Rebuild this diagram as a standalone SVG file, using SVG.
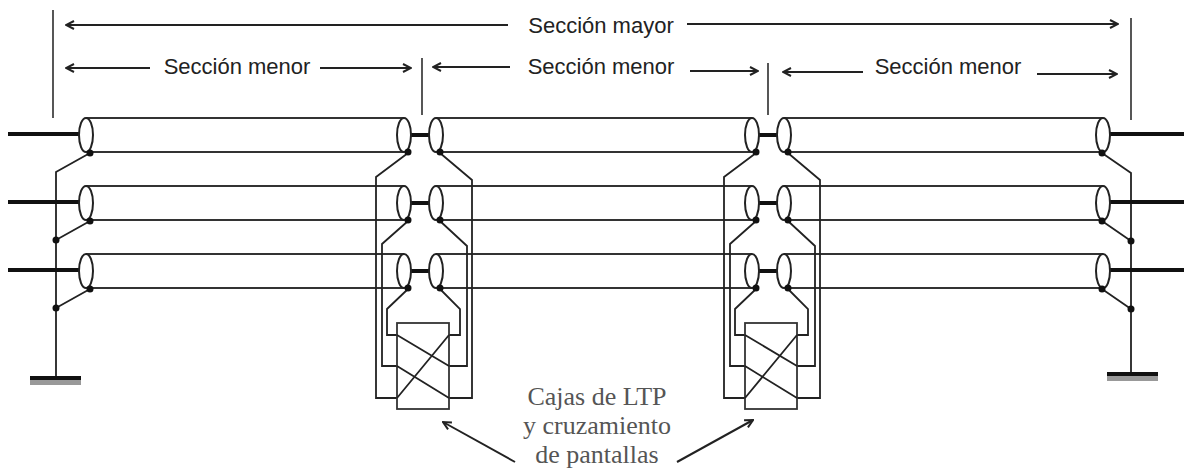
<svg xmlns="http://www.w3.org/2000/svg" width="1184" height="470" viewBox="0 0 1184 470">
<style>
.bg{fill:#ffffff}
.w{fill:none;stroke:#222;stroke-width:1.8;stroke-linejoin:miter}
.cab{fill:none;stroke:#333;stroke-width:2}
.cond{fill:none;stroke:#111;stroke-width:4}
.ell{fill:#fff;stroke:#222;stroke-width:2}
.dot{fill:#111}
.gnd{stroke:#111;stroke-width:4}
.gsh{fill:#999}
.box{fill:none;stroke:#333;stroke-width:1.8}
.arr{fill:none;stroke:#222;stroke-width:2;marker-end:url(#ah)}
.sep{fill:none;stroke:#444;stroke-width:1.8}
.lbl{font-family:"Liberation Sans",Arial,sans-serif;font-size:22px;fill:#222;text-anchor:middle}
.note{font-family:"Liberation Serif","Times New Roman",serif;font-size:26px;fill:#555;text-anchor:middle}
</style>
<defs>
<marker id="ah" markerUnits="userSpaceOnUse" viewBox="0 0 10 10" refX="9" refY="5" markerWidth="10" markerHeight="10" orient="auto">
<path d="M1,1 L9,5 L1,9" fill="none" stroke="#222" stroke-width="2"/>
</marker>
<g id="pair">
<line class="cond" x1="404" y1="0" x2="436" y2="0"/>
<ellipse class="ell" cx="404" cy="0" rx="7" ry="17"/>
<ellipse class="ell" cx="436" cy="0" rx="7" ry="17"/>
<circle class="dot" cx="408" cy="17" r="3.5"/>
<circle class="dot" cx="440" cy="17" r="3.5"/>
</g>
</defs>
<rect class="bg" x="0" y="0" width="1184" height="470"/>

<g id="connectors">
<!-- cable sheaths -->
<path class="cab" d="M86,118 H404 M90,152 H404 M436,118 H752 M440,152 H752 M784,118 H1103 M788,152 H1103"/>
<path class="cab" d="M86,186 H404 M90,220 H404 M436,186 H752 M440,220 H752 M784,186 H1103 M788,220 H1103"/>
<path class="cab" d="M86,254 H404 M90,288 H404 M436,254 H752 M440,288 H752 M784,254 H1103 M788,288 H1103"/>
<!-- dimension arrows -->
<line class="arr" x1="508" y1="25" x2="66" y2="25"/>
<line class="arr" x1="687" y1="24" x2="1118" y2="24"/>
<line class="arr" x1="150" y1="68" x2="66" y2="68"/>
<line class="arr" x1="320" y1="68" x2="411" y2="68"/>
<line class="arr" x1="510" y1="67" x2="433" y2="67"/>
<line class="arr" x1="690" y1="71" x2="758" y2="71"/>
<line class="arr" x1="863" y1="72" x2="783" y2="72"/>
<line class="arr" x1="1037" y1="74" x2="1117" y2="74"/>
<!-- callout arrows -->
<line class="arr" x1="515" y1="462" x2="443" y2="422"/>
<line class="arr" x1="677" y1="462" x2="753" y2="420"/>
</g>

<g id="section-marks">
<line class="sep" x1="53" y1="10" x2="53" y2="118"/>
<line class="sep" x1="422" y1="58" x2="422" y2="115"/>
<line class="sep" x1="768" y1="63" x2="768" y2="115"/>
<line class="sep" x1="1131" y1="18" x2="1131" y2="120"/>
</g>

<g id="left-end">
<path class="w" d="M90,153 L56,172 V378"/>
<path class="w" d="M90,221 L56,240 M90,289 L56,308"/>
<rect class="gsh" x="30" y="380" width="51" height="5"/>
<line class="gnd" x1="30" y1="378" x2="81" y2="378"/>
<line class="cond" x1="8" y1="134" x2="86" y2="134"/>
<line class="cond" x1="8" y1="202" x2="86" y2="202"/>
<line class="cond" x1="8" y1="270" x2="86" y2="270"/>
<ellipse class="ell" cx="86" cy="135" rx="7" ry="17"/>
<ellipse class="ell" cx="86" cy="203" rx="7" ry="17"/>
<ellipse class="ell" cx="86" cy="271" rx="7" ry="17"/>
<circle class="dot" cx="90" cy="153" r="3.5"/>
<circle class="dot" cx="90" cy="221" r="3.5"/>
<circle class="dot" cx="90" cy="289" r="3.5"/>
<circle class="dot" cx="56" cy="240" r="3.5"/>
<circle class="dot" cx="56" cy="308" r="3.5"/>
</g>

<g id="box-1">
<path class="w" d="M408,153 L376,177 V398 H397"/>
<path class="w" d="M440,153 L472,180 V398 H449"/>
<path class="w" d="M408,221 L382,244 V366 H397"/>
<path class="w" d="M440,221 L467,246 V366 H449"/>
<path class="w" d="M408,289 L387,309 V335 H397"/>
<path class="w" d="M440,289 L460,309 V335 H449"/>
<rect class="box" x="397" y="323" width="52" height="86"/>
<path class="w" d="M397,335 L449,366 M397,366 L449,398 M449,335 L397,398"/>
<use href="#pair" y="135"/>
<use href="#pair" y="203"/>
<use href="#pair" y="271"/>
</g>

<g id="box-2" transform="translate(348,0)">
<path class="w" d="M408,153 L376,177 V398 H397"/>
<path class="w" d="M440,153 L472,180 V398 H449"/>
<path class="w" d="M408,221 L382,244 V366 H397"/>
<path class="w" d="M440,221 L467,246 V366 H449"/>
<path class="w" d="M408,289 L387,309 V335 H397"/>
<path class="w" d="M440,289 L460,309 V335 H449"/>
<rect class="box" x="397" y="323" width="52" height="86"/>
<path class="w" d="M397,335 L449,366 M397,366 L449,398 M449,335 L397,398"/>
<use href="#pair" y="135"/>
<use href="#pair" y="203"/>
<use href="#pair" y="271"/>
</g>

<g id="right-end">
<path class="w" d="M1102,153 L1131,173 V374"/>
<path class="w" d="M1102,221 L1131,241 M1102,289 L1131,309"/>
<rect class="gsh" x="1107" y="376" width="51" height="5"/>
<line class="gnd" x1="1107" y1="374" x2="1158" y2="374"/>
<line class="cond" x1="1103" y1="134" x2="1184" y2="134"/>
<line class="cond" x1="1103" y1="202" x2="1184" y2="202"/>
<line class="cond" x1="1103" y1="270" x2="1184" y2="270"/>
<ellipse class="ell" cx="1103" cy="135" rx="7" ry="17"/>
<ellipse class="ell" cx="1103" cy="203" rx="7" ry="17"/>
<ellipse class="ell" cx="1103" cy="271" rx="7" ry="17"/>
<circle class="dot" cx="1102" cy="153" r="3.5"/>
<circle class="dot" cx="1102" cy="221" r="3.5"/>
<circle class="dot" cx="1102" cy="289" r="3.5"/>
<circle class="dot" cx="1131" cy="241" r="3.5"/>
<circle class="dot" cx="1131" cy="309" r="3.5"/>
</g>

<g id="labels">
<text class="lbl" x="601" y="33">Sección mayor</text>
<text class="lbl" x="237" y="74">Sección menor</text>
<text class="lbl" x="601" y="74">Sección menor</text>
<text class="lbl" x="948" y="74">Sección menor</text>
<text class="note" x="597" y="405">Cajas de LTP</text>
<text class="note" x="597" y="434">y cruzamiento</text>
<text class="note" x="597" y="463">de pantallas</text>
</g>
</svg>
